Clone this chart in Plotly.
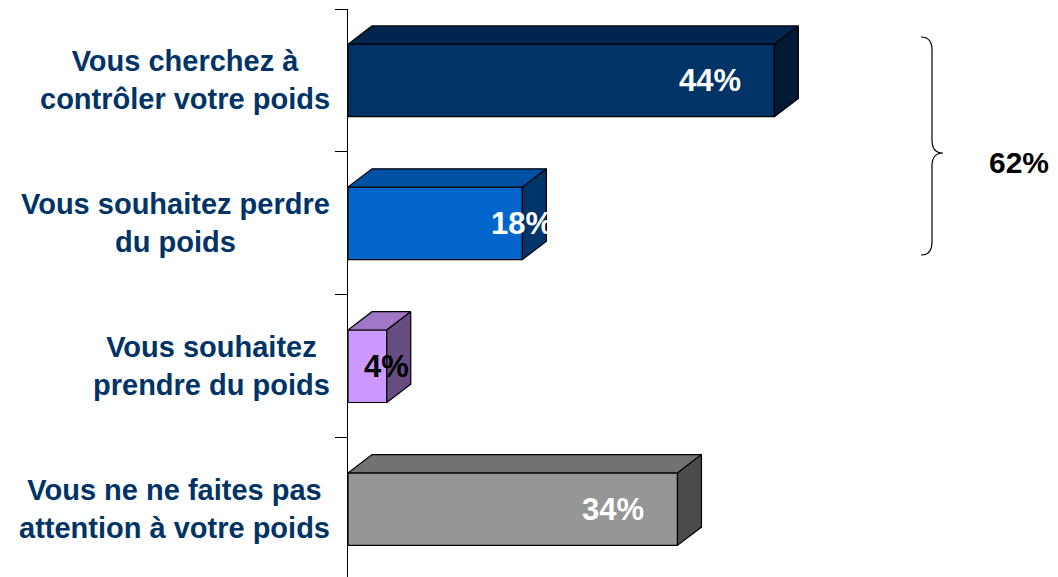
import plotly.graph_objects as go

# ---- data ----
categories = [
    "Vous cherchez à<br>contrôler votre poids",
    "Vous souhaitez perdre<br>du poids",
    "Vous souhaitez<br>prendre du poids",
    "Vous ne ne faites pas<br>attention à votre poids",
]
values = [44, 18, 4, 34]
value_labels = ["44%", "18%", "4%", "34%"]
group_label = f"{values[0] + values[1]}%"

# ---- styles ----
front_colors = ["#003366", "#0066CC", "#CC99FF", "#969696"]
top_colors = ["#00264F", "#0051A3", "#9E78C6", "#727272"]
side_colors = ["#001A36", "#00356B", "#664C80", "#4B4B4B"]
text_colors = ["white", "white", "black", "white"]
navy = "#003366"
FONT = "Liberation Sans, Arial, sans-serif"

W, H = 1058, 577
ML, MT = 348, 9
PX_PER_UNIT_X = 9.69
PX_PER_CAT = 142.9
plot_w = W - ML
plot_h = H - MT
x_max = plot_w / PX_PER_UNIT_X
y_bottom = -0.5 + plot_h / PX_PER_CAT

bar_w = 0.507
dx = 24 / PX_PER_UNIT_X      # depth in x data units
dy = 18.3 / PX_PER_CAT       # depth in y data units

ypos = list(range(len(categories)))

fig = go.Figure()

fig.add_trace(go.Bar(
    x=values, y=ypos, orientation="h", width=bar_w,
    marker=dict(color=front_colors, line=dict(color="black", width=1.2)),
    hoverinfo="skip", showlegend=False,
))

for i, v in enumerate(values):
    yt = i - bar_w / 2
    yb = i + bar_w / 2
    # top face
    fig.add_trace(go.Scatter(
        x=[0, v, v + dx, dx, 0], y=[yt, yt, yt - dy, yt - dy, yt],
        fill="toself", fillcolor=top_colors[i], mode="lines",
        line=dict(color="black", width=1.2), hoverinfo="skip", showlegend=False,
    ))
    # side face
    fig.add_trace(go.Scatter(
        x=[v, v + dx, v + dx, v, v], y=[yt, yt - dy, yb - dy, yb, yt],
        fill="toself", fillcolor=side_colors[i], mode="lines",
        line=dict(color="black", width=1.2), hoverinfo="skip", showlegend=False,
    ))

annotations = []
for i, cat in enumerate(categories):
    annotations.append(dict(
        x=0, xref="paper", y=i, yref="y", text=cat, showarrow=False,
        xanchor="right", yanchor="middle", align="center", xshift=-16,
        font=dict(family=FONT, size=29, color=navy, weight="bold"),
    ))

for i, (v, lab) in enumerate(zip(values, value_labels)):
    wide = v * PX_PER_UNIT_X > 250
    annotations.append(dict(
        x=v, y=i, xref="x", yref="y", text=lab, showarrow=False,
        xanchor="right" if wide else "center", yanchor="middle",
        xshift=-31 if wide else 0,
        font=dict(family=FONT, size=31, color=text_colors[i], weight="bold"),
    ))


def px(xp):
    return (xp - ML) / plot_w


def py(yp):
    return 1 - (yp - MT) / plot_h


brace_pts = [
    ("M", [(921, 37)]),
    ("Q", [(932, 37), (932, 50)]),
    ("L", [(932, 140)]),
    ("Q", [(932, 153), (943, 153)]),
    ("Q", [(932, 153), (932, 166)]),
    ("L", [(932, 242)]),
    ("Q", [(932, 255), (921, 255)]),
]
path = " ".join(
    cmd + " " + " ".join(f"{px(a):.5f},{py(b):.5f}" for a, b in pts)
    for cmd, pts in brace_pts
)

annotations.append(dict(
    x=px(1019), xref="paper", y=py(163), yref="paper", text=group_label,
    showarrow=False, xanchor="center", yanchor="middle",
    font=dict(family=FONT, size=30, color="black", weight="bold"),
))

fig.update_layout(
    width=W, height=H,
    margin=dict(l=ML, r=0, t=MT, b=0, pad=0),
    paper_bgcolor="white", plot_bgcolor="white",
    xaxis=dict(range=[0, x_max], visible=False, fixedrange=True),
    yaxis=dict(
        range=[y_bottom, -0.5], showgrid=False, zeroline=False,
        showline=True, linecolor="black", linewidth=1,
        tickmode="array", tickvals=[-0.5, 0.5, 1.5, 2.5],
        ticks="outside", ticklen=12, tickcolor="black", tickwidth=1,
        showticklabels=False,
    ),
    annotations=annotations,
    shapes=[dict(type="path", path=path, xref="paper", yref="paper",
                 line=dict(color="black", width=1.2))],
    showlegend=False,
)

fig.write_html(
    "out.html",
    config={"displayModeBar": False},
    post_script="document.body.style.margin='0';document.body.style.overflow='hidden';",
)
